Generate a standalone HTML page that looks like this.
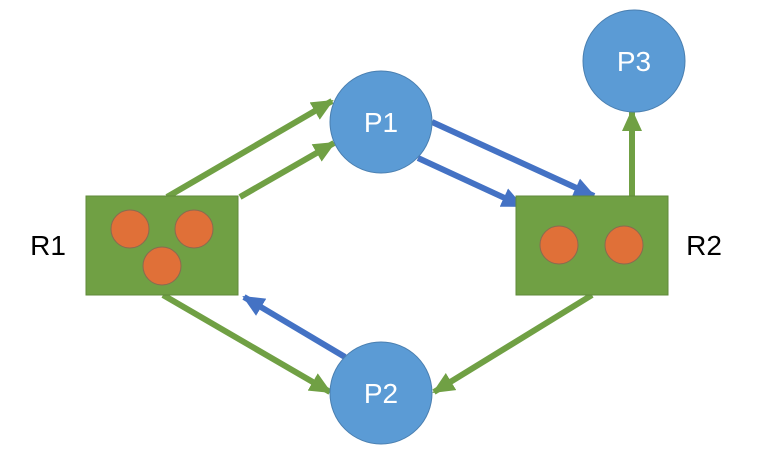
<!DOCTYPE html>
<html><head><meta charset="utf-8"><style>
html,body{margin:0;padding:0;background:#fff;}
svg{display:block;}
</style></head><body>
<svg width="776" height="454" viewBox="0 0 776 454" xmlns="http://www.w3.org/2000/svg">
<defs>
<marker id="g" markerUnits="userSpaceOnUse" markerWidth="22" markerHeight="20" refX="20" refY="10" orient="auto"><path d="M0,0 L22,10 L0,20 z" fill="#70a044"/></marker>
<marker id="b" markerUnits="userSpaceOnUse" markerWidth="22" markerHeight="20" refX="20" refY="10" orient="auto"><path d="M0,0 L22,10 L0,20 z" fill="#4472c4"/></marker>
</defs>
<g stroke-width="6" fill="none">
<line x1="167" y1="197" x2="332" y2="101" stroke="#70a044" marker-end="url(#g)"/>
<line x1="240" y1="197" x2="334" y2="143" stroke="#70a044" marker-end="url(#g)"/>
<line x1="163" y1="295" x2="330" y2="392" stroke="#70a044" marker-end="url(#g)"/>
<line x1="592" y1="295" x2="434" y2="392" stroke="#70a044" marker-end="url(#g)"/>
<line x1="632" y1="197" x2="632" y2="111" stroke="#70a044" marker-end="url(#g)"/>
<line x1="432" y1="122" x2="594" y2="196" stroke="#4472c4" marker-end="url(#b)"/>
<line x1="418" y1="158" x2="522" y2="206" stroke="#4472c4" marker-end="url(#b)"/>
<line x1="345" y1="357" x2="244" y2="297" stroke="#4472c4" marker-end="url(#b)"/>
</g>
<rect x="86" y="196" width="152" height="99" fill="#70a044" stroke="#5f8a3a" stroke-width="1"/>
<rect x="516" y="196" width="152" height="99" fill="#70a044" stroke="#5f8a3a" stroke-width="1"/>
<g fill="#e07038" stroke="#8a6a50" stroke-width="1">
<circle cx="130" cy="229" r="19"/><circle cx="194" cy="229" r="19"/><circle cx="162" cy="266" r="19"/>
<circle cx="559" cy="245" r="19"/><circle cx="624" cy="245" r="19"/>
</g>
<g fill="#5b9bd5" stroke="#4a7fb0" stroke-width="1">
<circle cx="381" cy="122" r="51"/><circle cx="381" cy="393" r="51"/><circle cx="634" cy="61" r="51"/>
</g>
<g font-family="Liberation Sans, sans-serif" font-size="28" text-anchor="middle">
<text x="381" y="132" fill="#fff">P1</text>
<text x="381" y="403" fill="#fff">P2</text>
<text x="634" y="71" fill="#fff">P3</text>
<text x="48" y="255" fill="#000">R1</text>
<text x="704" y="255" fill="#000">R2</text>
</g>
</svg>
</body></html>
